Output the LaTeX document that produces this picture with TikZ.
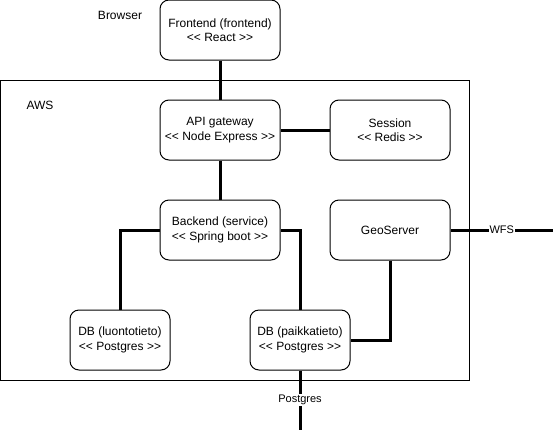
\documentclass[tikz,border=0pt]{standalone}
\usepackage{fontspec}
\setmainfont{Liberation Sans}
\begin{document}
\begin{tikzpicture}[x=1pt,y=-1pt,
  box/.style={draw,fill=white,rounded corners=9pt,line width=1pt,align=center,inner sep=0pt,
    minimum width=120pt,minimum height=60pt,font=\fontsize{12}{14.5}\selectfont},
  dbbox/.style={box,minimum width=100pt},
  conn/.style={line width=3pt},
  lbl/.style={font=\fontsize{12}{14.5}\selectfont},
  edgelbl/.style={fill=white,inner sep=1pt,font=\fontsize{11}{13}\selectfont}]
\useasboundingbox (0,0) rectangle (553,434);
\node (aws) [draw,line width=1pt,inner sep=0pt,minimum width=469pt,minimum height=300pt] at (235,230) {};
\node (browser) [lbl] at (120,15) {Browser};
\node (awslbl) [lbl] at (40,105) {AWS};
\node (fe) [box] at (220,30) {Frontend (frontend)\\<{}< React >{}>};
\node (api) [box] at (220,130) {API gateway\\<{}< Node Express >{}>};
\node (sess) [box] at (390,130) {Session\\<{}< Redis >{}>};
\node (be) [box] at (220,230) {Backend (service)\\<{}< Spring boot >{}>};
\node (geo) [box] at (390,230) {GeoServer};
\node (db1) [dbbox] at (120,340) {DB (luontotieto)\\<{}< Postgres >{}>};
\node (db2) [dbbox] at (300,340) {DB (paikkatieto)\\<{}< Postgres >{}>};
\coordinate (wfsend) at (553,230);
\coordinate (pgend) at (300,430);
\begin{scope}[on background layer/.try]
\end{scope}
\draw[conn] (fe.south) -- (api.north);
\draw[conn] (api.east) -- (sess.west);
\draw[conn] (api.south) -- (be.north);
\draw[conn] (be.west) -| (db1.north);
\draw[conn] (be.east) -| (db2.north);
\draw[conn] (geo.south) |- (db2.east);
\draw[conn] (geo.east) -- node[edgelbl] {WFS} (wfsend);
\draw[conn] (db2.south) -- node[edgelbl] {Postgres} (pgend);
\end{tikzpicture}
\end{document}
